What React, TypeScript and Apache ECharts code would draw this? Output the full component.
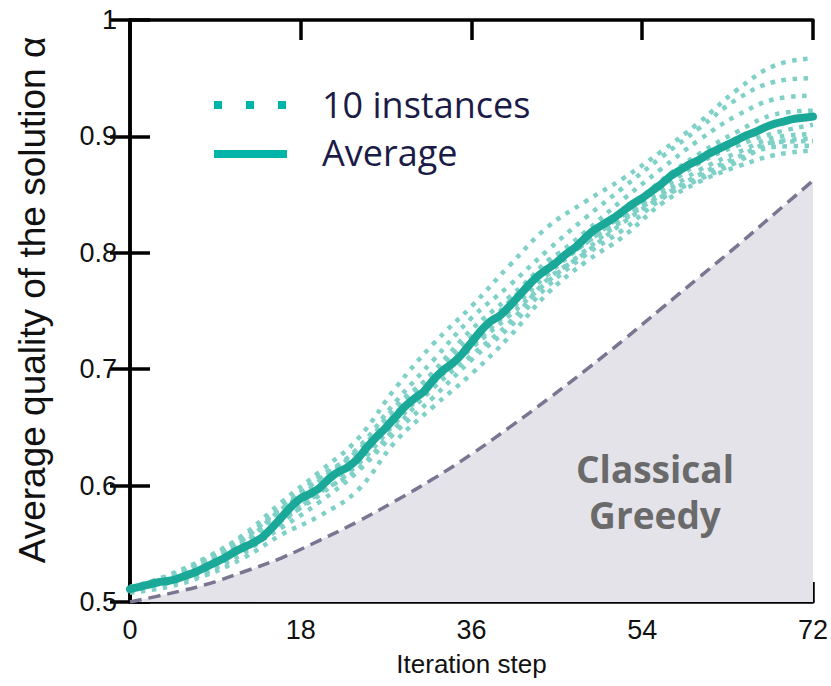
import React, { useEffect, useRef } from "react";
import * as echarts from "echarts";

// Iteration steps sampled for the individual instances and the greedy baseline
const coarseSteps = [0, 4, 8, 12, 16, 20, 24, 28, 32, 36, 40, 44, 48, 52, 56, 60, 64, 68, 72];

// Average over the 10 instances, one value per iteration step (0..72)
const averageQuality = [
  0.511, 0.513, 0.515, 0.517, 0.518, 0.520, 0.523, 0.526, 0.530, 0.534,
  0.538, 0.543, 0.547, 0.551, 0.556, 0.564, 0.573, 0.582, 0.589, 0.593,
  0.598, 0.606, 0.612, 0.616, 0.623, 0.633, 0.642, 0.650, 0.659, 0.668,
  0.675, 0.681, 0.691, 0.699, 0.705, 0.713, 0.723, 0.733, 0.741, 0.746,
  0.754, 0.763, 0.772, 0.780, 0.786, 0.792, 0.799, 0.805, 0.813, 0.820,
  0.825, 0.830, 0.836, 0.842, 0.847, 0.853, 0.859, 0.866, 0.871, 0.876,
  0.880, 0.885, 0.889, 0.893, 0.897, 0.901, 0.904, 0.908, 0.911, 0.913,
  0.915, 0.916, 0.917,
];

// Individual instances, sampled at coarseSteps
const instanceA = [0.511, 0.523, 0.538, 0.558, 0.586, 0.612, 0.640, 0.684, 0.722, 0.754, 0.789, 0.822, 0.844, 0.864, 0.887, 0.912, 0.940, 0.961, 0.967];
const instanceB = [0.513, 0.522, 0.536, 0.554, 0.582, 0.606, 0.632, 0.672, 0.708, 0.744, 0.772, 0.802, 0.830, 0.856, 0.882, 0.907, 0.932, 0.947, 0.950];
const instanceC = [0.511, 0.517, 0.533, 0.552, 0.578, 0.604, 0.630, 0.664, 0.698, 0.734, 0.762, 0.791, 0.818, 0.846, 0.872, 0.897, 0.918, 0.932, 0.935];
const instanceD = [0.510, 0.520, 0.529, 0.550, 0.580, 0.600, 0.620, 0.662, 0.690, 0.724, 0.758, 0.787, 0.808, 0.834, 0.862, 0.885, 0.904, 0.919, 0.922];
const instanceE = [0.508, 0.513, 0.523, 0.538, 0.558, 0.574, 0.596, 0.638, 0.668, 0.696, 0.728, 0.765, 0.792, 0.814, 0.842, 0.861, 0.874, 0.884, 0.888];
const instanceF = [0.512, 0.516, 0.525, 0.544, 0.564, 0.586, 0.612, 0.646, 0.676, 0.708, 0.736, 0.771, 0.798, 0.820, 0.846, 0.865, 0.880, 0.891, 0.892];
const instanceG = [0.509, 0.519, 0.527, 0.542, 0.568, 0.594, 0.614, 0.650, 0.684, 0.712, 0.740, 0.777, 0.800, 0.826, 0.848, 0.867, 0.882, 0.895, 0.896];
const instanceH = [0.511, 0.521, 0.531, 0.546, 0.570, 0.592, 0.618, 0.654, 0.688, 0.718, 0.746, 0.775, 0.802, 0.828, 0.850, 0.871, 0.886, 0.899, 0.902];
const instanceI = [0.513, 0.518, 0.534, 0.549, 0.572, 0.598, 0.624, 0.658, 0.692, 0.720, 0.750, 0.781, 0.808, 0.830, 0.854, 0.877, 0.892, 0.903, 0.910];
const instanceJ = [0.510, 0.520, 0.537, 0.556, 0.580, 0.608, 0.628, 0.668, 0.696, 0.728, 0.756, 0.793, 0.810, 0.832, 0.848, 0.863, 0.878, 0.895, 0.898];
const instances = [instanceA, instanceB, instanceC, instanceD, instanceE, instanceF, instanceG, instanceH, instanceI, instanceJ];

// Classical greedy baseline, sampled at coarseSteps
const greedyQuality = [0.500, 0.507, 0.515, 0.526, 0.538, 0.553, 0.569, 0.587, 0.606, 0.627, 0.650, 0.674, 0.699, 0.725, 0.752, 0.779, 0.806, 0.834, 0.862];

const legendLabels = ["10 instances", "Average"];
const greedyLabel = "Classical\nGreedy";
const xTitle = "Iteration step";
const yTitle = "Average quality of the solution α";

const TEAL = "#1aa898";
const TEAL_LIGHT = "#7fd1c7";
const TEAL_LEGEND = "#00b5a8";
const INK = "#1b1b48";

export default function App() {
  const ref = useRef<HTMLDivElement>(null);

  useEffect(() => {
    document.body.style.margin = "0";
    if (!ref.current) return;
    const chart = echarts.init(ref.current, undefined, { renderer: "svg" });

    const instanceSeries = instances.map((vals, i) => ({
      name: `instance-${i + 1}`,
      type: "line",
      data: coarseSteps.map((s, k) => [s, vals[k]]),
      smooth: 0.4,
      showSymbol: false,
      silent: true,
      z: 3,
      lineStyle: { color: TEAL_LIGHT, width: 4.5, type: [4.5, 6.5], cap: "butt" },
    }));

    const tickLabelStyle = {
      fontFamily: "Liberation Sans",
      fontSize: 27,
      color: "#111",
    };
    const boxLine = { show: true, lineStyle: { color: "#000", width: 3.5 } };
    const innerTick = { show: true, inside: true, length: 20, lineStyle: { color: "#000", width: 3.5 } };

    chart.setOption({
      animation: false,
      grid: { left: 130, right: 17, top: 20, bottom: 84 },
      xAxis: [
        {
          type: "value",
          min: 0,
          max: 72,
          interval: 18,
          position: "bottom",
          axisLine: boxLine,
          axisTick: innerTick,
          splitLine: { show: false },
          axisLabel: { ...tickLabelStyle, margin: 14 },
          name: xTitle,
          nameLocation: "middle",
          nameGap: 49,
          nameTextStyle: { fontFamily: "Liberation Sans", fontSize: 26, color: "#111" },
        },
        {
          type: "value",
          min: 0,
          max: 72,
          interval: 18,
          position: "top",
          axisLine: boxLine,
          axisTick: innerTick,
          splitLine: { show: false },
          axisLabel: { show: false },
        },
      ],
      yAxis: [
        {
          type: "value",
          min: 0.5,
          max: 1,
          interval: 0.1,
          position: "left",
          axisLine: boxLine,
          axisTick: innerTick,
          splitLine: { show: false },
          axisLabel: {
            ...tickLabelStyle,
            margin: 13,
            formatter: (v: number) => (Math.abs(v - 1) < 1e-9 ? "1" : v.toFixed(1)),
          },
        },
        {
          type: "value",
          min: 0.5,
          max: 1,
          interval: 0.1,
          position: "right",
          axisLine: boxLine,
          axisTick: innerTick,
          splitLine: { show: false },
          axisLabel: { show: false },
        },
      ],
      series: [
        {
          name: "Classical Greedy",
          type: "line",
          data: coarseSteps.map((s, k) => [s, greedyQuality[k]]),
          smooth: 0.4,
          showSymbol: false,
          silent: true,
          z: 1,
          lineStyle: { color: "#7b7591", width: 3.5, type: [12, 7] },
          areaStyle: { color: "#e4e3ea", origin: "start", opacity: 1 },
        },
        ...instanceSeries,
        {
          name: "Average",
          type: "line",
          data: averageQuality.map((v, s) => [s, v]),
          smooth: 0.2,
          showSymbol: false,
          silent: true,
          z: 4,
          lineStyle: { color: TEAL, width: 8, cap: "round", join: "round" },
        },
      ],
      graphic: [
        {
          type: "line",
          z: 10,
          shape: { x1: 214, y1: 105, x2: 290, y2: 105 },
          style: { stroke: TEAL_LEGEND, lineWidth: 8, lineDash: [8, 24] },
        },
        {
          type: "line",
          z: 10,
          shape: { x1: 214, y1: 154, x2: 287, y2: 154 },
          style: { stroke: TEAL_LEGEND, lineWidth: 8 },
        },
        {
          type: "text",
          z: 10,
          x: 322,
          y: 104,
          style: {
            text: legendLabels[0],
            fontFamily: "Open Sans",
            fontSize: 36,
            fill: INK,
            verticalAlign: "middle",
          },
        },
        {
          type: "text",
          z: 10,
          x: 322,
          y: 152,
          style: {
            text: legendLabels[1],
            fontFamily: "Open Sans",
            fontSize: 36,
            fill: INK,
            verticalAlign: "middle",
          },
        },
        {
          type: "text",
          z: 10,
          x: 655,
          y: 491,
          style: {
            text: greedyLabel,
            fontFamily: "Open Sans",
            fontWeight: "bold",
            fontSize: 37,
            lineHeight: 46,
            fill: "#6a6a6a",
            align: "center",
            verticalAlign: "middle",
          },
        },
        {
          type: "text",
          z: 10,
          x: 32,
          y: 300,
          rotation: Math.PI / 2,
          style: {
            text: yTitle,
            fontFamily: "Liberation Sans",
            fontSize: 37,
            fill: "#111",
            align: "center",
            verticalAlign: "middle",
          },
        },
      ],
    });

    return () => chart.dispose();
  }, []);

  return (
    <div
      ref={ref}
      style={{ position: "fixed", left: 0, top: 0, width: 831, height: 686, background: "#fff" }}
    />
  );
}
